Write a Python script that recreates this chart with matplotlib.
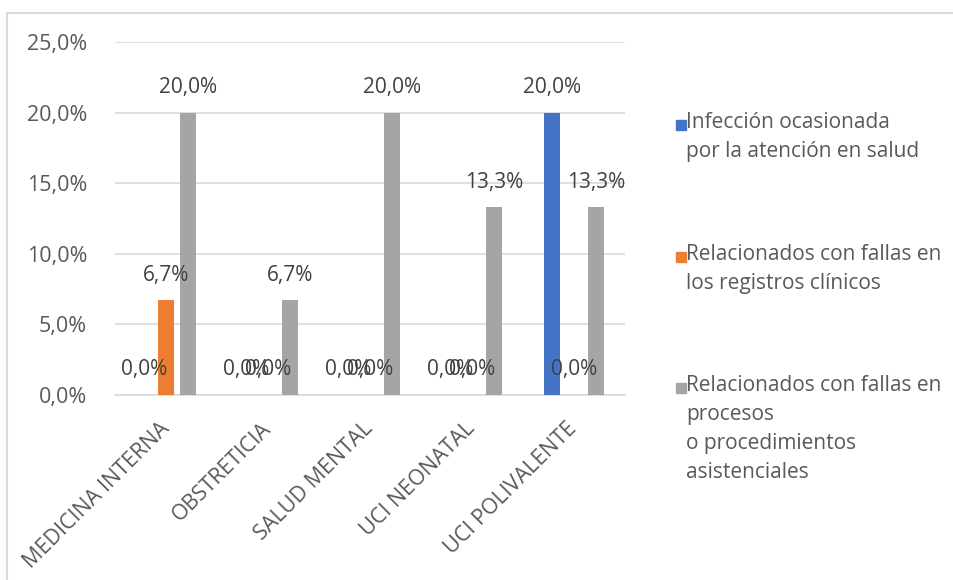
import matplotlib.pyplot as plt
import numpy as np
from matplotlib.patches import Rectangle
from matplotlib.lines import Line2D

plt.rcParams['font.family'] = ['Open Sans', 'DejaVu Sans']

servicios = ['MEDICINA INTERNA', 'OBSTRETICIA', 'SALUD MENTAL', 'UCI NEONATAL', 'UCI POLIVALENTE']
infeccion = [0.0, 0.0, 0.0, 0.0, 20.0]
registros = [6.7, 0.0, 0.0, 0.0, 0.0]
procesos = [20.0, 6.7, 20.0, 13.3, 13.3]

series = [
    ('Infección ocasionada\npor la atención en salud', infeccion, '#4472C4'),
    ('Relacionados con fallas en\nlos registros clínicos', registros, '#ED7D31'),
    ('Relacionados con fallas en\nprocesos\no procedimientos\nasistenciales', procesos, '#A5A5A5'),
]

gris_texto = '#595959'
fs = 15

fig = plt.figure(figsize=(9.54, 5.8), dpi=100)
ax = fig.add_axes([115/954, 1-395/580, 510/954, 353/580])

x = np.arange(len(servicios))
ancho = 0.16
paso = 0.215

for i, (nombre, vals, color) in enumerate(series):
    pos = x + (i - 1) * paso
    barras = ax.bar(pos, vals, ancho, color=color, zorder=3)
    for b, v in zip(barras, vals):
        ax.annotate(f'{v:.1f}%'.replace('.', ','),
                    (b.get_x() + b.get_width()/2, v),
                    xytext=(0, 18), textcoords='offset points',
                    ha='center', va='center', fontsize=fs, color='#404040', zorder=4)

ax.set_xlim(-0.5, len(servicios) - 0.5)
ax.set_ylim(0, 25)
ax.set_yticks(np.arange(0, 26, 5))
ax.set_yticklabels([f'{t:.1f}%'.replace('.', ',') for t in np.arange(0, 26, 5)])
ax.set_xticks(x)
ax.set_xticklabels(servicios, rotation=45, ha='right', va='center', rotation_mode='anchor')
ax.tick_params(axis='both', length=0, labelsize=15.5, labelcolor=gris_texto)
ax.tick_params(axis='y', pad=20)
ax.tick_params(axis='x', pad=22)
ax.grid(axis='y', color='#D9D9D9', linewidth=1.2, zorder=0)
for s in ['top', 'right', 'left']:
    ax.spines[s].set_visible(False)
ax.spines['bottom'].set_color('#D9D9D9')
ax.spines['bottom'].set_linewidth(1.2)

# leyenda a mano: cuadro alineado con la primera línea
y_leyenda = [125, 257, 388]
for (nombre, vals, color), yp in zip(series, y_leyenda):
    fig.patches.append(Rectangle((676/954, 1 - (yp + 5)/580), 10/954, 10/580,
                                 transform=fig.transFigure, color=color))
    fig.text(686/954, 1 - (yp - 13)/580, nombre, fontsize=fs, color=gris_texto,
             va='top', ha='left', linespacing=1.5)

# marco del gráfico
fig.add_artist(Line2D([7/954, 7/954], [0, 1 - 13/580], color='#D9D9D9', lw=1.5,
                      transform=fig.transFigure))
fig.add_artist(Line2D([7/954, 1], [1 - 13/580, 1 - 13/580], color='#D9D9D9', lw=1.5,
                      transform=fig.transFigure))

fig.savefig('out.png', dpi=100)
